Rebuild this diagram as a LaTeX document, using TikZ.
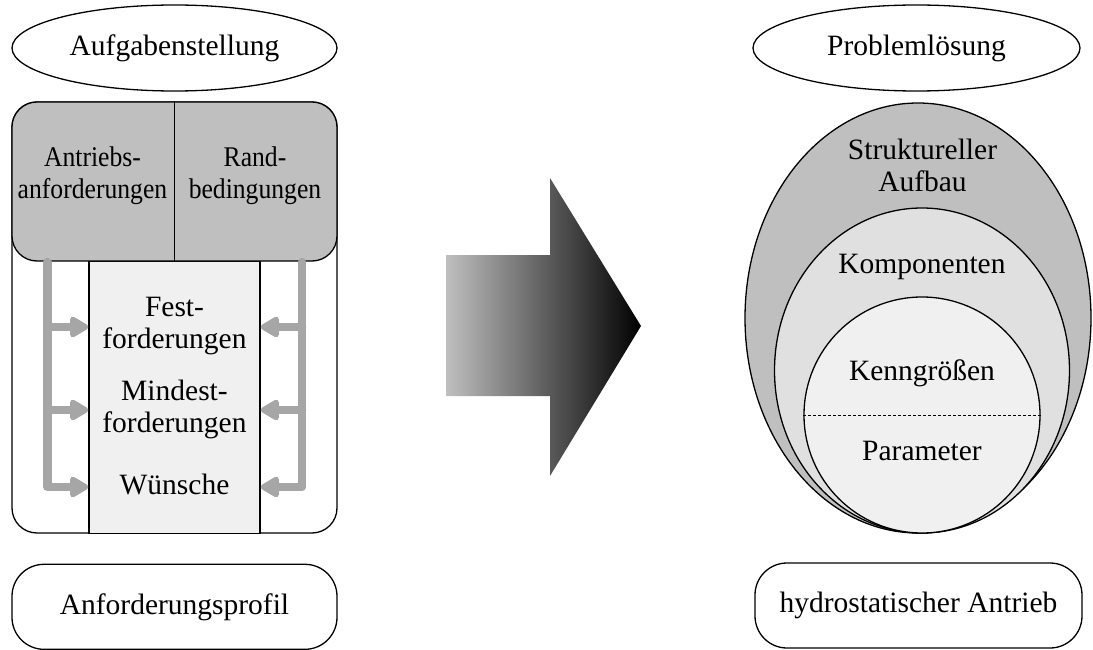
\documentclass[tikz,border=0pt]{standalone}
\usepackage{fontspec}
\setmainfont{Liberation Serif}
\newfontfamily\schmal[FakeStretch=0.9]{Liberation Serif}
\usepackage{tikz}
\usetikzlibrary{calc,positioning,arrows.meta,shapes,backgrounds}
\definecolor{grau}{gray}{0.75}
\definecolor{mittelgrau}{gray}{0.88}
\definecolor{hellgrau}{gray}{0.94}
\definecolor{astgrau}{gray}{0.65}

\begin{document}
\begin{tikzpicture}[x=1pt, y=-1pt, align=center, line width=1.3pt, font=\fontsize{29.5}{32}\selectfont,
    klein/.style={font=\schmal\fontsize{28.5}{32}\selectfont},
    ast/.style={astgrau, line width=8.5pt, line join=round, line cap=round,
        -{Triangle[width=23pt, length=21pt, round]}}]
    \useasboundingbox (0,0) rectangle (1093,650);

    \node [draw, ellipse, minimum width=325pt, minimum height=86pt, inner sep=0pt] (aufgabe) at (174.5,48) {Aufgabenstellung};
    \node [draw, fill=white, rounded corners=25pt, minimum width=325pt, minimum height=431pt] (rahmen) at (174.5,317.5) {};
    \node [draw, fill=hellgrau, minimum width=171pt, minimum height=272pt, anchor=north] (mitte) at (174.5,261) {};
    \node [draw, fill=grau, rounded corners=25pt, minimum width=325pt, minimum height=159pt] (kopf) at (174.5,181.5) {};
    \draw (kopf.north) -- (kopf.south);

    \node [klein] (antrieb) at (92.5,176) {Antriebs-\\anforderungen};
    \node [klein] (rand) at (255,176) {Rand-\\bedingungen};
    \node (fest) at (174.5,326) {Fest-\\forderungen};
    \node (mindest) at (174.5,409) {Mindest-\\forderungen};
    \node (wunsch) at (174.5,484) {Wünsche};

    \coordinate (lo) at (47.5,262);
    \coordinate (ro) at (302,262);
    \draw [ast] (lo) |- ($(mitte.west |- wunsch)+(0,3)$);
    \draw [ast] (lo |- 0,327) -- (mitte.west |- 0,327);
    \draw [ast] (lo |- 0,410) -- (mitte.west |- 0,410);
    \draw [ast] (ro) |- ($(mitte.east |- wunsch)+(0,3)$);
    \draw [ast] (ro |- 0,327) -- (mitte.east |- 0,327);
    \draw [ast] (ro |- 0,410) -- (mitte.east |- 0,410);

    \node [draw, rounded corners=32pt, minimum width=325pt, minimum height=85pt, below=30pt of rahmen] (profil) {Anforderungsprofil};

    \shade [left color=grau, right color=black]
        (446,255) -- (550,255) -- (550,178) -- (641,326) --
        (550,476) -- (550,396) -- (446,396) -- cycle;

    \node [draw, ellipse, minimum width=327pt, minimum height=86pt, inner sep=0pt] (loesung) at (916.5,48) {Problemlösung};
    \node [draw, ellipse, fill=grau, minimum width=346pt, minimum height=430pt, inner sep=0pt] (aufbau) at (918,318) {};
    \node [draw, ellipse, fill=mittelgrau, minimum width=295pt, minimum height=325pt, inner sep=0pt] (komp) at (922,370.5) {};
    \node [draw, circle, fill=hellgrau, minimum size=236pt, inner sep=0pt] (kenn) at (922,415) {};
    \draw [line width=1pt, dash pattern=on 3pt off 2pt] (kenn.west) -- (kenn.east);

    \node (aufbautext) at (922.5,165) {Struktureller\\Aufbau};
    \node (komptext) at (922,267) {Komponenten};
    \node (kenntext) at (922,373) {Kenngrößen};
    \node (paramtext) at (922,451) {Parameter};

    \node [draw, rounded corners=32pt, minimum width=327pt, minimum height=85pt] (antriebhydro) at (918.5,605.5) {hydrostatischer Antrieb};

\end{tikzpicture}
\end{document}
